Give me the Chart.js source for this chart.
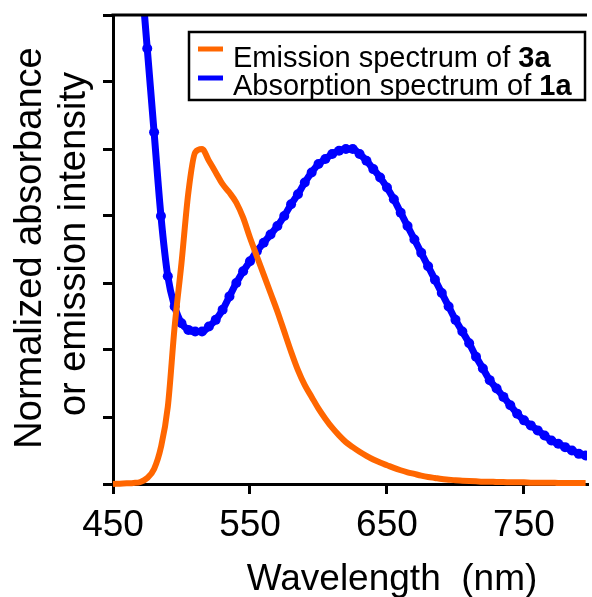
<!DOCTYPE html>
<html>
<head>
<meta charset="utf-8">
<title>Spectra</title>
<script src="https://cdn.jsdelivr.net/npm/chart.js@4"></script>
<style>
  html, body { margin: 0; padding: 0; background: #fff; }
  #spectra { display: block; }
</style>
</head>
<body>
<canvas id="spectra" width="592" height="597"></canvas>
<script>
// Emission of 3a, normalized (nm / intensity)
const emissionNm = [450, 455, 460, 465, 470, 475, 480, 485, 490, 495,
    500, 505, 510, 515, 520, 525, 530, 535, 540, 545,
    550, 555, 560, 565, 570, 575, 580, 585, 590, 595,
    600, 605, 610, 615, 620, 625, 630, 635, 640, 645,
    650, 655, 660, 665, 670, 675, 680, 685, 690, 695,
    700, 705, 710, 715, 720, 725, 730, 735, 740, 745,
    750, 755, 760, 765, 770, 775, 780, 785, 790, 795];
const emissionIntensity = [0.000, 0.001, 0.002, 0.003, 0.006, 0.018, 0.045, 0.11, 0.23, 0.47,
    0.66, 0.87, 0.99, 1.00, 0.965, 0.93, 0.895, 0.87, 0.84, 0.795,
    0.735, 0.68, 0.625, 0.57, 0.515, 0.455, 0.395, 0.34, 0.295, 0.26,
    0.225, 0.195, 0.168, 0.145, 0.125, 0.11, 0.096, 0.084, 0.073, 0.064,
    0.056, 0.048, 0.041, 0.035, 0.030, 0.025, 0.021, 0.018, 0.015, 0.013,
    0.011, 0.010, 0.009, 0.008, 0.007, 0.007, 0.006, 0.006, 0.005, 0.005,
    0.005, 0.004, 0.004, 0.004, 0.004, 0.003, 0.003, 0.003, 0.003, 0.003];

// Absorption of 1a, normalized
const absorptionNm = [470, 475, 480, 485, 490, 495,
    500, 505, 510, 515, 520, 525, 530, 535, 540, 545,
    550, 555, 560, 565, 570, 575, 580, 585, 590, 595,
    600, 605, 610, 615, 620, 625, 630, 635, 640, 645,
    650, 655, 660, 665, 670, 675, 680, 685, 690, 695,
    700, 705, 710, 715, 720, 725, 730, 735, 740, 745,
    750, 755, 760, 765, 770, 775, 780, 785, 790, 795];
const absorbance = [1.55, 1.30, 1.05, 0.80, 0.62, 0.53,
    0.48, 0.46, 0.455, 0.455, 0.47, 0.49, 0.52, 0.56, 0.60, 0.635,
    0.665, 0.695, 0.72, 0.745, 0.77, 0.80, 0.835, 0.865, 0.90, 0.93,
    0.955, 0.97, 0.985, 0.995, 1.00, 1.00, 0.985, 0.965, 0.94, 0.915,
    0.885, 0.85, 0.81, 0.77, 0.73, 0.69, 0.65, 0.61, 0.57, 0.53,
    0.49, 0.455, 0.42, 0.38, 0.345, 0.31, 0.285, 0.26, 0.235, 0.21,
    0.19, 0.175, 0.16, 0.145, 0.13, 0.12, 0.11, 0.10, 0.09, 0.085];

const xTickValues = [450, 550, 650, 750];
const yTickValues = [0, 0.2, 0.4, 0.6, 0.8, 1.0, 1.2, 1.4];

const legendText = [['Emission spectrum of ', '3a'], ['Absorption spectrum of ', '1a']];
const xTitle = 'Wavelength  (nm)';
const yTitleLines = ['Normalized absorbance', 'or emission intensity'];

const ORANGE = '#ff6600';
const BLUE = '#0000ff';
const FONT = "'Liberation Sans', Arial, Helvetica, sans-serif";

function toPoints(xs, ys) {
    return xs.map((x, i) => ({ x: x, y: ys[i] }));
}

// Top frame edge, axis titles and the boxed legend
const decorations = {
    id: 'decorations',
    afterDraw(chart) {
        const { ctx, chartArea: area } = chart;
        ctx.save();
        ctx.strokeStyle = '#000';
        ctx.lineWidth = 3;
        ctx.beginPath();
        ctx.moveTo(area.left - 1.5, area.top);
        ctx.lineTo(area.right, area.top);
        ctx.stroke();

        ctx.fillStyle = '#000';
        ctx.textAlign = 'center';
        ctx.textBaseline = 'alphabetic';

        // y title, two rotated lines
        ctx.font = `38px ${FONT}`;
        yTitleLines.forEach((line, i) => {
            ctx.save();
            ctx.translate(41 + i * 44, 248 - i * 4);
            ctx.rotate(-Math.PI / 2);
            ctx.fillText(line, 0, 0);
            ctx.restore();
        });

        // x title
        ctx.font = `37px ${FONT}`;
        ctx.fillText(xTitle, 392, 590);

        // legend box
        ctx.lineWidth = 2.5;
        ctx.strokeRect(189, 32, 396, 68);
        const colors = [ORANGE, BLUE];
        const sampleY = [49, 78];
        const textY = [67, 95];
        ctx.textAlign = 'left';
        legendText.forEach((parts, i) => {
            ctx.strokeStyle = colors[i];
            ctx.lineWidth = 5;
            ctx.beginPath();
            ctx.moveTo(198, sampleY[i]);
            ctx.lineTo(223, sampleY[i]);
            ctx.stroke();

            ctx.font = `29px ${FONT}`;
            ctx.fillText(parts[0], 233, textY[i]);
            const w = ctx.measureText(parts[0]).width;
            ctx.font = `bold 29px ${FONT}`;
            ctx.fillText(parts[1], 233 + w, textY[i]);
        });
        ctx.restore();
    }
};

new Chart(document.getElementById('spectra'), {
    type: 'line',
    data: {
        datasets: [{
            label: 'Emission spectrum of 3a',
            data: toPoints(emissionNm, emissionIntensity),
            borderColor: ORANGE,
            borderWidth: 6,
            pointRadius: 0,
            cubicInterpolationMode: 'monotone',
            clip: { left: 5, top: 0, right: 0, bottom: 5 }
        }, {
            label: 'Absorption spectrum of 1a',
            data: toPoints(absorptionNm, absorbance),
            borderColor: BLUE,
            borderWidth: 7,
            pointRadius: 5,
            pointBorderWidth: 0,
            pointBackgroundColor: BLUE,
            cubicInterpolationMode: 'monotone',
            clip: { left: 5, top: 0, right: 0, bottom: 5 }
        }]
    },
    options: {
        responsive: false,
        animation: false,
        events: [],
        layout: { padding: { top: 15, right: 0, bottom: 0, left: 0 } },
        plugins: {
            legend: { display: false },
            tooltip: { enabled: false }
        },
        scales: {
            x: {
                type: 'linear',
                min: 450,
                max: 796,
                afterBuildTicks: (scale) => { scale.ticks = xTickValues.map(v => ({ value: v })); },
                afterFit: (scale) => {
                    scale.height = 113;
                    scale.paddingLeft = 0;
                    scale.paddingRight = 0;
                },
                border: { color: '#000', width: 3 },
                grid: { drawOnChartArea: false, color: '#000', lineWidth: 3, tickLength: 10 },
                ticks: {
                    color: '#000',
                    padding: 10,
                    maxRotation: 0,
                    font: { family: FONT, size: 37 }
                }
            },
            y: {
                min: 0,
                max: 1.4,
                afterBuildTicks: (scale) => { scale.ticks = yTickValues.map(v => ({ value: v })); },
                afterFit: (scale) => {
                    scale.width = 113;
                    scale.paddingTop = 0;
                    scale.paddingBottom = 0;
                },
                border: { color: '#000', width: 3 },
                grid: { drawOnChartArea: false, color: '#000', lineWidth: 3, tickLength: 10 },
                ticks: { display: false }
            }
        }
    },
    plugins: [decorations]
});
</script>
</body>
</html>
